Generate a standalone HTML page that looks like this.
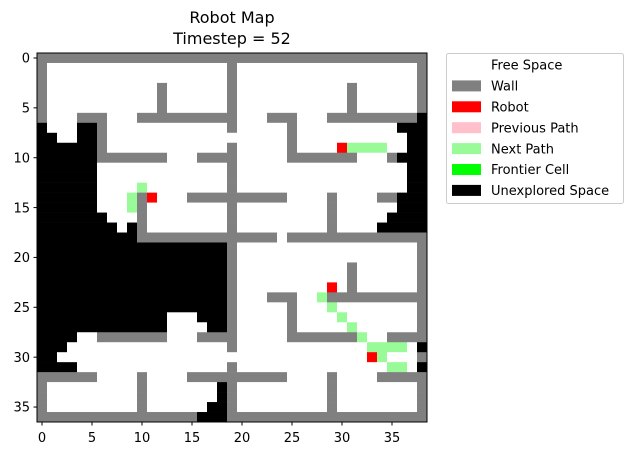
<!DOCTYPE html>
<html><head><meta charset="utf-8"><style>
html,body{margin:0;padding:0;background:#fff;}
svg{display:block;font-family:"DejaVu Sans","Liberation Sans",sans-serif;}
</style></head><body>
<svg id="chart" width="632" height="456" viewBox="0 0 632 456" xmlns="http://www.w3.org/2000/svg">
<text x="232" y="23" font-size="16" text-anchor="middle">Robot Map</text>
<text x="232" y="44" font-size="16" text-anchor="middle">Timestep = 52</text>
<g id="grid"></g>
<rect x="37" y="53" width="390" height="369" fill="none" stroke="#000" stroke-width="1"/>
<g id="ticks"></g>
<g>
<rect x="446.5" y="53.5" width="177" height="150" rx="2" fill="#fff" stroke="#ccc"/>
<g id="legend"></g>
</g>
</svg>
<script>
const cellColors = {'.':'#ffffff','W':'#808080','B':'#000000','R':'#ff0000','G':'#98fb98','P':'#ffc0cb','F':'#00ff00'};
const gridRows = [
"W39",
"W1 .18 W1 .18 W1",
"W1 .18 W1 .18 W1",
"W1 .11 W1 .6 W1 .11 W1 .6 W1",
"W1 .11 W1 .6 W1 .11 W1 .6 W1",
"W1 .11 W1 .6 W1 .11 W1 .6 W1",
"W1 .3 W3 .3 W10 .3 W3 .3 W9 B1",
"B1 .3 B2 W1 .12 W1 .5 W1 .10 B3",
"B2 .2 B2 W1 .12 .1 .5 W1 .11 B2",
"B6 W1 .12 W1 .5 W1 .4 R1 G4 .2 B2",
"B6 W7 .3 W4 .5 W7 .3 W1 B3",
"B6 .13 W1 .17 B2",
"B6 .13 W1 .17 B2",
"B6 .4 G1 .8 W1 .17 B2",
"B6 .3 G1 W1 R1 .3 W10 .4 W1 .4 W2 B3",
"B6 .3 G1 W1 .8 W1 .9 W1 .6 B3",
"B7 .3 W1 .8 W1 .9 W1 .5 B4",
"B8 .1 B1 W1 .8 W1 .9 W1 .4 B5",
"B10 W14 .1 W14",
"B19 W1 .18 W1",
"B19 W1 .18 W1",
"B19 W1 .11 W1 .6 W1",
"B19 W1 .11 W1 .6 W1",
"B19 W1 .9 R1 .1 W1 .6 W1",
"B19 W1 .3 W3 .2 G1 W10",
"B19 W1 .5 W1 .3 G1 .8 W1",
"B13 .3 B3 W1 .5 W1 .4 G1 .7 W1",
"B13 .4 B2 W1 .5 W1 .5 G1 .6 W1",
"B4 .2 W7 .3 W4 .5 W7 G1 .2 W4",
"B3 .16 W1 .13 G4 .1 B1",
"B2 .31 R1 G1 .3 W1",
"B4 .15 W1 .15 G2 .1 B1",
"W6 .4 W1 .4 W10 .4 W1 .4 W5",
"W1 .9 W1 .7 B1 W1 .9 W1 .8 W1",
"W1 .9 W1 .7 B1 W1 .9 W1 .8 W1",
"W1 .9 W1 .6 B2 W1 .9 W1 .8 W1",
"W16 B3 W20"
];
const xTicks = [0,5,10,15,20,25,30,35];
const yTicks = [0,5,10,15,20,25,30,35];
const legendLabels = ["Free Space","Wall","Robot","Previous Path","Next Path","Frontier Cell","Unexplored Space"];
const legendKeys = ['.','W','R','P','G','F','B'];

const NS = "http://www.w3.org/2000/svg";
const X0 = 37, Y0 = 53, CW = 390/39, CH = 369/37;
function xScale(c){ return X0 + c*CW; }
function yScale(r){ return Y0 + r*CH; }
function expand(spec){ let s=''; spec.split(' ').forEach(t=>{ s += t[0].repeat(parseInt(t.slice(1))); }); return s; }

const grid = document.getElementById('grid');
gridRows.forEach((spec, r) => {
  const row = expand(spec);
  let c = 0;
  while (c < row.length) {
    let e = c; while (e < row.length && row[e] === row[c]) e++;
    const rect = document.createElementNS(NS,'rect');
    
    
    const x1 = xScale(c), x2 = xScale(e), y1 = yScale(r), y2 = yScale(r+1);
    rect.setAttribute('x', x1); rect.setAttribute('y', y1);
    rect.setAttribute('width', x2-x1); rect.setAttribute('height', y2-y1+0.3);
    rect.setAttribute('fill', cellColors[row[c]]);
    grid.appendChild(rect);
    c = e;
  }
});

const ticks = document.getElementById('ticks');
xTicks.forEach(v => {
  const x = xScale(v + 0.5);
  const l = document.createElementNS(NS,'line');
  
  
  l.setAttribute('x1', x); l.setAttribute('x2', x); l.setAttribute('y1', 422); l.setAttribute('y2', 425.5);
  l.setAttribute('stroke', '#000');
  ticks.appendChild(l);
  const t = document.createElementNS(NS,'text');
  
  
  t.setAttribute('x', x); t.setAttribute('y', 442); t.setAttribute('font-size', '13'); t.setAttribute('text-anchor', 'middle');
  t.textContent = v;
  ticks.appendChild(t);
});
yTicks.forEach(v => {
  const y = yScale(v + 0.5);
  const l = document.createElementNS(NS,'line');
  
  
  l.setAttribute('x1', 33.5); l.setAttribute('x2', 37); l.setAttribute('y1', y); l.setAttribute('y2', y);
  l.setAttribute('stroke', '#000');
  ticks.appendChild(l);
  const t = document.createElementNS(NS,'text');
  
  
  t.setAttribute('x', 30); t.setAttribute('y', y + 4.7); t.setAttribute('font-size', '13'); t.setAttribute('text-anchor', 'end');
  t.textContent = v;
  ticks.appendChild(t);
});

const legend = document.getElementById('legend');
legendLabels.forEach((lab, i) => {
  const cy = 65 + i*20.9;
  const p = document.createElementNS(NS,'rect');
  
  
  p.setAttribute('x', 452); p.setAttribute('y', cy-5.5); p.setAttribute('width', 29); p.setAttribute('height', 11);
  p.setAttribute('fill', cellColors[legendKeys[i]]);
  legend.appendChild(p);
  const t = document.createElementNS(NS,'text');
  
  
  t.setAttribute('x', 491); t.setAttribute('y', cy+4.7); t.setAttribute('font-size', '13');
  t.textContent = lab;
  legend.appendChild(t);
});
</script>
</body></html>
